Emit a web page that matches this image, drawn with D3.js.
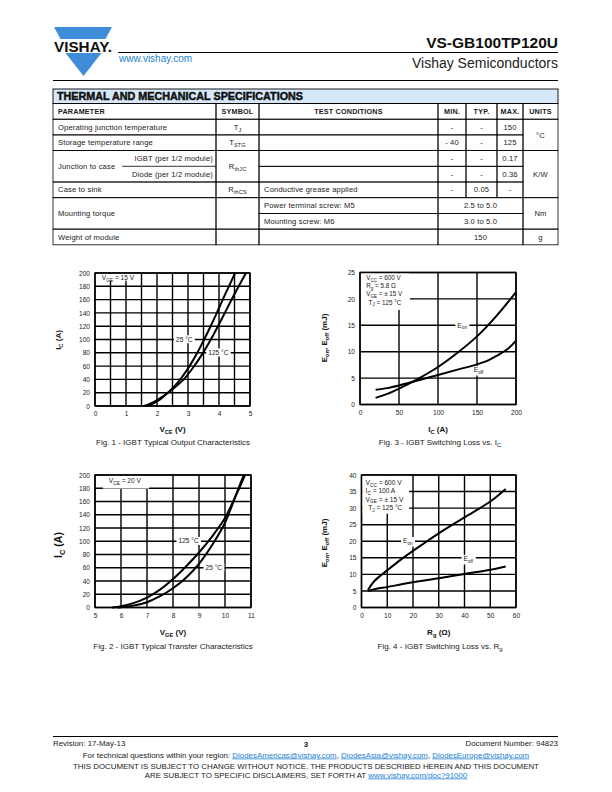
<!DOCTYPE html>
<html><head><meta charset="utf-8">
<script src="https://cdn.jsdelivr.net/npm/d3@7"></script>
<style>
body{margin:0;background:#fff}
svg{display:block}
text{font-family:"Liberation Sans",Arial,Helvetica,sans-serif;fill:#1a1a1a}
</style></head><body>
<svg id="page" width="612" height="792"></svg>
<script>
// ================= DATA =================
const partNumber = "VS-GB100TP120U";
const division = "Vishay Semiconductors";
const website = "www.vishay.com";
const tableTitle = "THERMAL AND MECHANICAL SPECIFICATIONS";
const specHeaders = ["PARAMETER","SYMBOL","TEST CONDITIONS","MIN.","TYP.","MAX.","UNITS"];
const specParams = ["Operating junction temperature","Storage temperature range","Junction to case","Case to sink","Mounting torque","Weight of module"];
const specSubParams = ["IGBT (per 1/2 module)","Diode (per 1/2 module)"];
const specSymbols = ["T_{J}","T_{STG}","R_{thJC}","R_{thCS}"];
const specConditions = ["Conductive grease applied","Power terminal screw: M5","Mounting screw: M6"];
const specMin = ["-","- 40","-","-","-"];
const specTyp = ["-","-","-","-","0.05"];
const specMax = ["150","125","0.17","0.36","-"];
const specRanges = ["2.5 to 5.0","3.0 to 5.0","150"];
const specUnits = ["°C","K/W","Nm","g"];

// Fig. 1 - IGBT typical output characteristics (VCE [V], IC [A])
const fig1XTicks = [0,1,2,3,4,5];
const fig1YTicks = [0,20,40,60,80,100,120,140,160,180,200];
const fig1T25  = [[1.68,0],[1.9,4.5],[2.1,10],[2.3,18],[2.55,29],[2.8,43],[3.05,60],[3.3,80],[3.52,100],[3.73,120],[3.93,140],[4.12,160],[4.32,180],[4.52,200]];
const fig1T125 = [[1.58,0],[1.8,4],[2.0,9],[2.3,18],[2.6,29],[2.9,42],[3.2,60],[3.5,81],[3.75,101],[4.0,123],[4.22,143],[4.45,164],[4.67,183],[4.87,200]];
const fig1Texts = ["V_{GE} = 15 V","25 °C","125 °C"];

// Fig. 2 - IGBT typical transfer characteristics (VGE [V], IC [A])
const fig2XTicks = [5,6,7,8,9,10,11];
const fig2YTicks = [0,20,40,60,80,100,120,140,160,180,200];
const fig2T125 = [[5.65,0],[6.0,2],[6.5,7],[7.0,15],[7.5,27],[8.0,43],[8.5,62],[9.0,83],[9.5,107],[10.0,135],[10.25,155],[10.5,176],[10.77,200]];
const fig2T25  = [[5.85,0],[6.0,0.5],[6.5,3],[7.0,8],[7.5,17],[8.0,29],[8.5,45],[9.0,66],[9.5,94],[10.0,128],[10.25,152],[10.5,178],[10.72,200]];
const fig2Texts = ["V_{CE} = 20 V","125 °C","25 °C"];

// Fig. 3 - IGBT switching loss vs. IC (IC [A], E [mJ])
const fig3XTicks = [0,50,100,150,200];
const fig3YTicks = [0,5,10,15,20,25];
const fig3Eon  = [[20,1.26],[35,2.0],[50,3.0],[75,4.9],[100,7.1],[125,9.8],[150,12.9],[175,16.8],[200,21.3]];
const fig3Eoff = [[20,2.8],[35,3.1],[50,3.6],[75,4.6],[100,5.6],[125,6.6],[150,7.6],[165,8.4],[175,9.2],[190,10.6],[200,12.1]];
const fig3Cond = ["V_{CC} = 600 V","R_{g} = 5.8 Ω","V_{GE} = ± 15 V","T_{J} = 125 °C"];
const fig3Texts = ["E_{on}","E_{off}"];

// Fig. 4 - IGBT switching loss vs. Rg (Rg [ohm], E [mJ])
const fig4XTicks = [0,10,20,30,40,50,60];
const fig4YTicks = [0,5,10,15,20,25,30,35,40];
const fig4Eon  = [[2.5,5.3],[5,8.0],[10,11.2],[15,14.3],[20,17.1],[30,22.4],[40,27.2],[50,32.0],[56,35.8]];
const fig4Eoff = [[2.5,5.0],[5,5.5],[10,6.2],[20,7.6],[30,8.8],[40,10.1],[50,11.4],[56,12.4]];
const fig4Cond = ["V_{CC} = 600 V","I_{C} = 100 A","V_{GE} = ± 15 V","T_{J} = 125 °C"];
const fig4Texts = ["E_{on}","E_{off}"];

const captions = ["Fig. 1 - IGBT Typical Output Characteristics","Fig. 2 - IGBT Typical Transfer Characteristics","Fig. 3 -  IGBT Switching Loss vs. I_{C}","Fig. 4 - IGBT Switching Loss vs. R_{g}"];
const footerLeft = "Revision: 17-May-13";
const footerPage = "3";
const footerRight = "Document Number: 94823";
const footerEmails = ["DiodesAmericas@vishay.com","DiodesAsia@vishay.com","DiodesEurope@vishay.com"];
const footerDisclaimer = ["THIS DOCUMENT IS SUBJECT TO CHANGE WITHOUT NOTICE. THE PRODUCTS DESCRIBED HEREIN AND THIS DOCUMENT","ARE SUBJECT TO SPECIFIC DISCLAIMERS, SET FORTH AT "];
const footerLink = "www.vishay.com/doc?91000";

// ================= DRAWING =================
const svg = d3.select('#page');
const BLUE = '#1d7fcf';
const LOGO = '#3f8dd9';

function rich(sel, str, size){
  const parts = str.split(/(_\{[^}]*\})/).filter(s=>s.length);
  let sub=false;
  parts.forEach(p=>{
    if(p.startsWith('_{')){
      sel.append('tspan').attr('font-size', size*0.72).attr('dy', size*0.25).text(p.slice(2,-1));
      sub=true;
    } else {
      const t = sel.append('tspan').text(p);
      if(sub){ t.attr('dy', -size*0.25); sub=false; }
    }
  });
  return sel;
}
function txt(parent, x, y, str, size, opts={}){
  const t = parent.append('text').attr('x',x).attr('y',y).attr('font-size',size)
    .attr('text-anchor',opts.anchor||'start');
  if(opts.weight) t.attr('font-weight',opts.weight);
  if(opts.fill) t.style('fill',opts.fill);
  if(opts.ls) t.attr('letter-spacing',opts.ls);
  if(opts.rotate) t.attr('transform',`rotate(-90,${x},${y})`);
  rich(t, str, size);
  return t;
}

// ---- Header ----
const hdr = svg.append('g');
hdr.append('polygon').attr('points','54,27 112,27 105.5,39 60.5,39').attr('fill',LOGO);
hdr.append('polygon').attr('points','65.5,53 101.5,53 83.5,76').attr('fill',LOGO);
hdr.append('text').attr('x',54).attr('y',52).attr('font-size',15).attr('font-weight','bold')
  .attr('textLength',58).attr('lengthAdjust','spacingAndGlyphs').style('fill','#111').text('VISHAY.');
txt(hdr, 558, 47.5, partNumber, 15.5, {anchor:'end', weight:'bold', fill:'#111'});
hdr.append('line').attr('x1',118).attr('x2',558).attr('y1',52.5).attr('y2',52.5).attr('stroke','#000').attr('stroke-width',1);
txt(hdr, 119, 62, website, 10, {fill:BLUE});
txt(hdr, 558, 67.5, division, 14, {anchor:'end', fill:'#222'});
hdr.append('line').attr('x1',53).attr('x2',558).attr('y1',80.5).attr('y2',80.5).attr('stroke','#000').attr('stroke-width',1);

// ---- Table ----
const tb = svg.append('g');
const C = [53,216,259,438,466,497,523,558];
const barTop = 89, barBot = 103.5, rowH = 15.7;
const R = d3.range(10).map(i=>barBot + i*rowH);
tb.append('rect').attr('x',C[0]).attr('y',barTop).attr('width',C[7]-C[0]).attr('height',barBot-barTop)
  .attr('fill','#d6e8f7').attr('stroke','#000').attr('stroke-width',0.9);
tb.append('text').attr('x',57).attr('y',100.3).attr('font-size',10).attr('font-weight',900)
  .attr('textLength',246).attr('lengthAdjust','spacingAndGlyphs')
  .style('fill','#111').style('stroke','#111').style('stroke-width',0.45).text(tableTitle);
function cell(c0,c1,r0,r1){
  tb.append('rect').attr('x',C[c0]).attr('y',R[r0]).attr('width',C[c1]-C[c0]).attr('height',R[r1]-R[r0])
    .attr('fill','none').attr('stroke','#000').attr('stroke-width',0.8);
}
function ctext(c0,c1,r0,r1,str,align,bold){
  const cy = (R[r0]+R[r1])/2 + 2.6;
  let x, a;
  if(align==='left'){ x = C[c0]+5; a='start'; }
  else if(align==='right'){ x = C[c1]-3; a='end'; }
  else { x=(C[c0]+C[c1])/2; a='middle'; }
  txt(tb, x, cy, str, bold?7.2:7.6, {anchor:a, weight:bold?'bold':null, fill:'#1a1a1a', ls: bold?0.2:0.15});
}
for(let c=0;c<7;c++){ cell(c,c+1,0,1); ctext(c,c+1,0,1,specHeaders[c], c===0?'left':'mid', true); }
// parameter column
cell(0,1,1,2); ctext(0,1,1,2,specParams[0],'left');
cell(0,1,2,3); ctext(0,1,2,3,specParams[1],'left');
cell(0,1,3,5); ctext(0,1,3,5,specParams[2],'left');
tb.append('line').attr('x1',122).attr('x2',C[1]).attr('y1',R[4]).attr('y2',R[4]).attr('stroke','#000').attr('stroke-width',0.8);
ctext(0,1,3,4,specSubParams[0],'right');
ctext(0,1,4,5,specSubParams[1],'right');
cell(0,1,5,6); ctext(0,1,5,6,specParams[3],'left');
cell(0,1,6,8); ctext(0,1,6,8,specParams[4],'left');
cell(0,1,8,9); ctext(0,1,8,9,specParams[5],'left');
// symbol column
cell(1,2,1,2); ctext(1,2,1,2,specSymbols[0],'mid');
cell(1,2,2,3); ctext(1,2,2,3,specSymbols[1],'mid');
cell(1,2,3,5); ctext(1,2,3,5,specSymbols[2],'mid');
cell(1,2,5,6); ctext(1,2,5,6,specSymbols[3],'mid');
cell(1,2,6,8); cell(1,2,8,9);
// conditions
for(let r=1;r<=4;r++) cell(2,3,r,r+1);
cell(2,3,5,6); ctext(2,3,5,6,specConditions[0],'left');
cell(2,3,6,7); ctext(2,3,6,7,specConditions[1],'left');
cell(2,3,7,8); ctext(2,3,7,8,specConditions[2],'left');
cell(2,3,8,9);
// min typ max
for(let r=0;r<5;r++){
  cell(3,4,r+1,r+2); ctext(3,4,r+1,r+2,specMin[r],'mid');
  cell(4,5,r+1,r+2); ctext(4,5,r+1,r+2,specTyp[r],'mid');
  cell(5,6,r+1,r+2); ctext(5,6,r+1,r+2,specMax[r],'mid');
}
for(let r=0;r<3;r++){ cell(3,6,r+6,r+7); ctext(3,6,r+6,r+7,specRanges[r],'mid'); }
// units
cell(6,7,1,3); ctext(6,7,1,3,specUnits[0],'mid');
cell(6,7,3,6); ctext(6,7,3,6,specUnits[1],'mid');
cell(6,7,6,8); ctext(6,7,6,8,specUnits[2],'mid');
cell(6,7,8,9); ctext(6,7,8,9,specUnits[3],'mid');

// ---- Charts ----
function drawChart(cfg){
  const g = svg.append('g');
  const x = d3.scaleLinear().domain(cfg.xDomain).range([cfg.L, cfg.R]);
  const y = d3.scaleLinear().domain(cfg.yDomain).range([cfg.B, cfg.T]);
  const xg = d3.range(cfg.xDomain[0], cfg.xDomain[1]+1e-9, cfg.xStep);
  const yg = d3.range(cfg.yDomain[0], cfg.yDomain[1]+1e-9, cfg.yStep);
  const grid = g.append('g').attr('stroke','#000').attr('stroke-width',1.4);
  grid.selectAll('.v').data(xg).join('line').attr('class','v')
    .attr('x1',d=>x(d)).attr('x2',d=>x(d)).attr('y1',cfg.T).attr('y2',cfg.B);
  grid.selectAll('.h').data(yg).join('line').attr('class','h')
    .attr('y1',d=>y(d)).attr('y2',d=>y(d)).attr('x1',cfg.L).attr('x2',cfg.R);
  const bgLayer = g.append('g');
  (cfg.boxes||[]).forEach(b=>{
    bgLayer.append('rect').attr('x',x(b[0])+0.8).attr('y',y(b[3])+0.8)
      .attr('width',x(b[1])-x(b[0])-0.8).attr('height',y(b[2])-y(b[3])-0.8).attr('fill','#fff');
  });
  const line = d3.line().x(d=>x(d[0])).y(d=>y(d[1])).curve(d3.curveCatmullRom.alpha(0.5));
  const curveLayer = g.append('g');
  cfg.series.forEach(s=>curveLayer.append('path').attr('d',line(s)).attr('fill','none')
    .attr('stroke','#000').attr('stroke-width',2).attr('stroke-linejoin','round'));
  const textLayer = g.append('g');
  (cfg.labels||[]).forEach(l=>{
    const t = txt(textLayer, x(l.x), y(l.y)+2.2, l.text, l.size||6.6, {anchor:l.anchor||'middle', fill:'#1a1a1a'});
    if(l.bg){
      const bb = t.node().getBBox();
      bgLayer.append('rect').attr('x',bb.x-2).attr('y',bb.y-0.5).attr('width',bb.width+4).attr('height',bb.height+1).attr('fill','#fff');
    }
  });
  g.append('rect').attr('x',cfg.L).attr('y',cfg.T).attr('width',cfg.R-cfg.L).attr('height',cfg.B-cfg.T)
    .attr('fill','none').attr('stroke','#000').attr('stroke-width',1.4);
  const ax = g.append('g').attr('transform',`translate(0,${cfg.B})`)
    .call(d3.axisBottom(x).tickValues(cfg.xTicks).tickSize(0).tickPadding(5.5).tickFormat(d3.format('d')));
  const ay = g.append('g').attr('transform',`translate(${cfg.L},0)`)
    .call(d3.axisLeft(y).tickValues(cfg.yTicks).tickSize(0).tickPadding(5).tickFormat(d3.format('d')));
  [ax,ay].forEach(a=>{ a.select('.domain').remove();
    a.attr('font-family','"Liberation Sans",Arial,sans-serif').attr('font-size',6.6);
    a.selectAll('text').style('fill','#1a1a1a'); });
  txt(g, (cfg.L+cfg.R)/2, cfg.xTitleY, cfg.xTitle, 8, {anchor:'middle', weight:'bold', fill:'#111'});
  txt(g, cfg.yTitleX, cfg.yTitleY, cfg.yTitle, cfg.yTitleSize||8, {anchor:'middle', weight:'bold', fill:'#111', rotate:true});
  txt(g, cfg.capX, cfg.capY, cfg.caption, 8, {anchor:'middle', fill:'#1a1a1a'});
}

drawChart({L:95,R:250,T:273,B:406, xDomain:[0,5], yDomain:[0,200], xStep:0.5, yStep:20,
  xTicks:fig1XTicks, yTicks:fig1YTicks, series:[fig1T25,fig1T125],
  boxes:[[0,1.45,188.5,200]],
  labels:[{x:0.22,y:192.5,text:fig1Texts[0],anchor:'start'},{x:2.88,y:100,text:fig1Texts[1],bg:true},{x:3.98,y:80,text:fig1Texts[2],bg:true}],
  xTitle:'V_{CE} (V)', xTitleY:432, yTitle:'I_{C} (A)', yTitleX:61, yTitleY:340,
  caption:captions[0], capX:173, capY:444.5});

drawChart({L:95,R:251,T:475,B:607.5, xDomain:[5,11], yDomain:[0,200], xStep:1, yStep:20,
  xTicks:fig2XTicks, yTicks:fig2YTicks, series:[fig2T125,fig2T25],
  boxes:[[5.27,7.08,179.5,200]],
  labels:[{x:6.15,y:190.5,text:fig2Texts[0]},{x:8.6,y:100,text:fig2Texts[1],bg:true},{x:9.57,y:60,text:fig2Texts[2],bg:true}],
  xTitle:'V_{GE} (V)', xTitleY:635, yTitle:'I_{C} (A)', yTitleX:62, yTitleY:545, yTitleSize:10.5,
  caption:captions[1], capX:173, capY:648.5});

drawChart({L:360,R:516,T:272.5,B:404.5, xDomain:[0,200], yDomain:[0,25], xStep:50, yStep:5,
  xTicks:fig3XTicks, yTicks:fig3YTicks, series:[fig3Eon,fig3Eoff],
  boxes:[[0,64,17.9,25]],
  labels:[{x:8,y:24.0,text:fig3Cond[0],anchor:'start',size:6.3},{x:8,y:22.45,text:fig3Cond[1],anchor:'start',size:6.3},
          {x:8,y:20.9,text:fig3Cond[2],anchor:'start',size:6.3},{x:11,y:19.35,text:fig3Cond[3],anchor:'start',size:6.3},
          {x:131,y:15,text:fig3Texts[0],bg:true},{x:152,y:6.5,text:fig3Texts[1],bg:true}],
  xTitle:'I_{C} (A)', xTitleY:432, yTitle:'E_{on}, E_{off} (mJ)', yTitleX:327, yTitleY:338,
  caption:captions[2], capX:440, capY:444.5});

drawChart({L:361.5,R:516,T:475,B:607.5, xDomain:[0,60], yDomain:[0,40], xStep:10, yStep:5,
  xTicks:fig4XTicks, yTicks:fig4YTicks, series:[fig4Eon,fig4Eoff],
  boxes:[[0,18.5,28.3,40]],
  labels:[{x:1.6,y:37.5,text:fig4Cond[0],anchor:'start'},{x:1.6,y:35.1,text:fig4Cond[1],anchor:'start'},
          {x:1.6,y:32.6,text:fig4Cond[2],anchor:'start'},{x:2.6,y:30.1,text:fig4Cond[3],anchor:'start'},
          {x:18,y:20,text:fig4Texts[0],bg:true},{x:41.5,y:14.6,text:fig4Texts[1],bg:true}],
  xTitle:'R_{g} (Ω)', xTitleY:635, yTitle:'E_{on}, E_{off} (mJ)', yTitleX:327, yTitleY:543,
  caption:captions[3], capX:440, capY:648.5});

// ---- Footer ----
const ft = svg.append('g');
const FS = 7.9;
ft.append('line').attr('x1',53).attr('x2',558).attr('y1',736.5).attr('y2',736.5).attr('stroke','#000').attr('stroke-width',1);
txt(ft, 53, 745.5, footerLeft, FS);
txt(ft, 306, 746.5, footerPage, FS, {anchor:'middle', weight:'bold'});
txt(ft, 558, 745.5, footerRight, FS, {anchor:'end'});
const l2 = ft.append('text').attr('x',306).attr('y',757.5).attr('font-size',FS).attr('text-anchor','middle');
l2.append('tspan').text('For technical questions within your region: ');
footerEmails.forEach((e,i)=>{
  l2.append('tspan').style('fill',BLUE).attr('text-decoration','underline').text(e);
  if(i<footerEmails.length-1) l2.append('tspan').text(', ');
});
txt(ft, 306, 769, footerDisclaimer[0], FS, {anchor:'middle'});
const l4 = ft.append('text').attr('x',306).attr('y',777.5).attr('font-size',FS).attr('text-anchor','middle');
l4.append('tspan').text(footerDisclaimer[1]);
l4.append('tspan').style('fill',BLUE).attr('text-decoration','underline').text(footerLink);
</script>
</body></html>
